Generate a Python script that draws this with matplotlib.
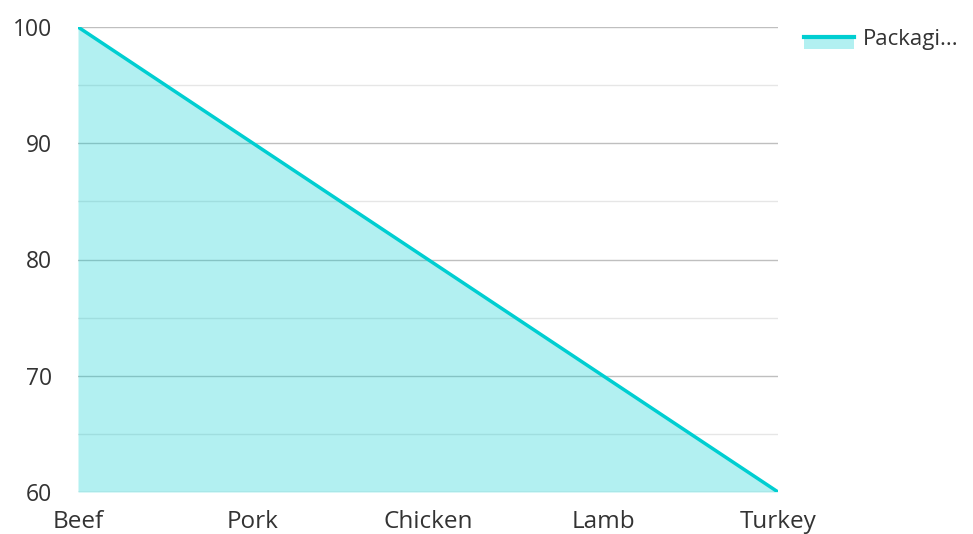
import matplotlib
matplotlib.use("Agg")
import matplotlib.pyplot as plt
from matplotlib.patches import Rectangle
from matplotlib.lines import Line2D

categories = ["Beef", "Pork", "Chicken", "Lamb", "Turkey"]
values = [100, 90, 80, 70, 60]
series_name = "Packagi..."
yticks = [60, 70, 80, 90, 100]
minor_yticks = [65, 75, 85, 95]

plt.rcParams['font.family'] = ['Open Sans', 'DejaVu Sans']
line_color = "#00CED1"

fig = plt.figure(figsize=(9.73, 5.34), dpi=100)
ax = fig.add_axes([78/973, 42/534, 700/973, 465/534])

x = list(range(len(categories)))
ax.fill_between(x, values, 60, color=line_color, alpha=0.3, linewidth=0, zorder=2)
ax.plot(x, values, color=line_color, linewidth=2.5, zorder=3, solid_capstyle='round')

ax.set_xlim(0, len(categories) - 1)
ax.set_ylim(60, 100)
ax.set_xticks(x)
ax.set_xticklabels(categories)
ax.set_yticks(yticks)
ax.set_yticks(minor_yticks, minor=True)
ax.grid(axis='y', which='major', color='#BFBFBF', linewidth=1, zorder=1)
ax.grid(axis='y', which='minor', color='#E6E6E6', linewidth=1, zorder=1)
ax.set_axisbelow(True)
for s in ax.spines.values():
    s.set_visible(False)
ax.tick_params(axis='both', which='both', length=0, colors='#333333')
ax.tick_params(axis='x', labelsize=17.5, pad=13)
ax.tick_params(axis='y', labelsize=16.5, pad=18.5)

# legend
W, H = 973, 534
fig.patches.append(Rectangle((804/W, 1 - 49/H), 50/W, 13/H, transform=fig.transFigure,
                             facecolor=line_color, alpha=0.3, edgecolor='none'))
fig.lines.append(Line2D([804/W, 854/W], [1 - 37/H, 1 - 37/H], transform=fig.transFigure,
                        color=line_color, linewidth=3))
fig.text(863/W, 1 - 40/H, series_name, fontsize=16, color='#333333', va='center', ha='left')

fig.savefig("out.png", dpi=100)
